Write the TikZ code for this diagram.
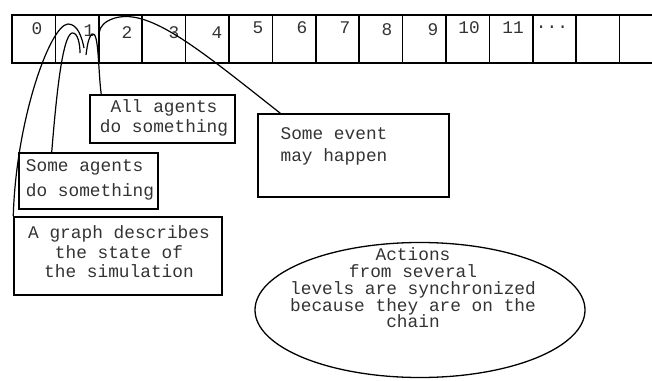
\documentclass[tikz,border=0pt]{standalone}
\usepackage{fontspec}
\setmainfont{Liberation Mono}
\usetikzlibrary{shapes.geometric}

\begin{document}
\begin{tikzpicture}[x=1pt, y=-1pt, line width=1.2pt,
    cell/.style={draw, line width=1.5pt, minimum width=43.4pt, minimum height=48pt, inner sep=0pt},
    num/.style={inner sep=0pt, text=black!80, font=\fontsize{17.8}{18}\selectfont},
    note/.style={draw, line width=1.5pt, inner sep=0pt},
    words/.style={inner sep=0pt, align=center, text=black!80}]
    \useasboundingbox (0,0) rectangle (652,380);
    \clip (0,0) rectangle (652,380);

    % chain of time steps
    \node[cell] (c0) at (33.7, 39) {};
    \node[cell] (c1) at (77.1, 39) {};
    \node[cell] (c2) at (120.5, 39) {};
    \node[cell] (c3) at (163.9, 39) {};
    \node[cell] (c4) at (207.3, 39) {};
    \node[cell] (c5) at (250.7, 39) {};
    \node[cell] (c6) at (294.1, 39) {};
    \node[cell] (c7) at (337.5, 39) {};
    \node[cell] (c8) at (380.9, 39) {};
    \node[cell] (c9) at (424.3, 39) {};
    \node[cell] (c10) at (467.7, 39) {};
    \node[cell] (c11) at (511.1, 39) {};
    \node[cell] (c12) at (554.5, 39) {};
    \node[cell] (c13) at (597.9, 39) {};
    \node[cell] (c14) at (641.3, 39) {};

    % step numbers
    \node[num] (n0) at (37, 29) {0};
    \node[num] (n1) at (89, 31) {1};
    \node[num] (n2) at (127, 33) {2};
    \node[num] (n3) at (174, 33) {3};
    \node[num] (n4) at (217, 33) {4};
    \node[num] (n5) at (258, 28) {5};
    \node[num] (n6) at (302, 28) {6};
    \node[num] (n7) at (345, 28) {7};
    \node[num] (n8) at (387, 30) {8};
    \node[num] (n9) at (433, 30) {9};
    \node[num] (n10) at (469, 28) {10};
    \node[num] (n11) at (513, 28) {11};
    \node[num] (n12) at (552, 27) {...};

    % boxes
    \node[note, minimum width=145pt, minimum height=48pt] (allbox) at (162.5, 119) {};
    \node[words, font=\fontsize{17.8}{20}\selectfont] (alltext) at (164, 118) {All agents\\do something};
    \node[note, minimum width=139pt, minimum height=56pt] (somebox) at (88.5, 181) {};
    \node[words, align=left, font=\fontsize{17.8}{25}\selectfont] (sometext) at (90, 180) {Some agents\\do something};
    \node[note, minimum width=191pt, minimum height=83pt] (eventbox) at (353.5, 155.5) {};
    \node[words, font=\fontsize{17.8}{22}\selectfont] (eventtext) at (334, 146) {Some event\\may happen};
    \node[note, minimum width=208pt, minimum height=78pt] (graphbox) at (118, 256) {};
    \node[words, font=\fontsize{17.8}{19.5}\selectfont] (graphtext) at (119, 252) {A graph describes\\the state of\\the simulation};
    \node[ellipse, draw, line width=1.3pt, minimum width=330pt, minimum height=135pt] (syncell) at (420, 310) {};
    \node[words, font=\fontsize{17.8}{16.7}\selectfont] (synctext) at (413, 288) {Actions\\from several\\levels are synchronized\\because they are on the\\chain};

    % ends of the links inside step 1
    \coordinate (gend) at (84, 48);
    \coordinate (send) at (80, 53);
    \coordinate (aend) at (86, 55);
    \coordinate (eend) at (99, 33);

    % links
    \draw (graphbox.north west) .. controls (16, 120) and (50, 25) .. (68, 24) .. controls (78, 24) and (82, 38) .. (gend);
    \draw (somebox.142) .. controls (56, 100) and (62, 36) .. (72, 33) .. controls (78, 32) and (80, 45) .. (send);
    \draw (allbox.158) .. controls (98, 70) and (99, 30) .. (92, 34) .. controls (88, 38) and (87, 48) .. (aend);
    \draw (eventbox.150) .. controls (200, 50) and (150, 8) .. (115, 18) .. controls (105, 21) and (100, 26) .. (eend);
\end{tikzpicture}
\end{document}
